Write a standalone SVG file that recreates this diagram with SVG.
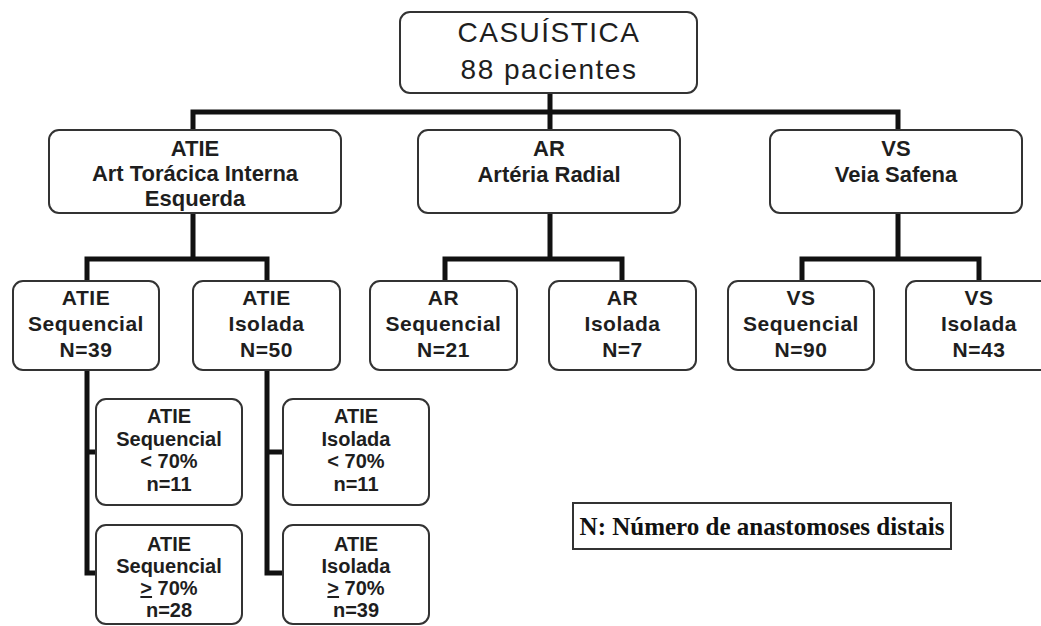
<svg xmlns="http://www.w3.org/2000/svg" width="1041" height="626" viewBox="0 0 1041 626">
<style>
.box{fill:#fff;stroke:#333;stroke-width:2}
.conn{fill:none;stroke:#111;stroke-width:5;stroke-linejoin:miter;stroke-linecap:butt}
text{font-family:"Liberation Sans",Arial,sans-serif;fill:#1e1e1e;text-anchor:middle}
.t0{font-size:28px;letter-spacing:1.5px}
.t1{font-size:22px;font-weight:bold}
.t2{font-size:21px;font-weight:bold;letter-spacing:0.5px}
.t3{font-size:20px;font-weight:bold}
.leg{font-family:"Liberation Serif","Times New Roman",serif;font-size:25px;font-weight:bold;fill:#111}
</style>
<rect width="1041" height="626" fill="#fff"/>
<g id="connectors">
<path class="conn" d="M550,93 V112 M193,130 V112 H898 V130 M550,112 V130"/>
<path class="conn" d="M193,213 V259 M87,281 V259 H267 V281"/>
<path class="conn" d="M550,213 V259 M445,281 V259 H622 V281"/>
<path class="conn" d="M898,213 V259 M802,281 V259 H979 V281"/>
<path class="conn" d="M87,370 V573 H96 M87,452 H96"/>
<path class="conn" d="M267,370 V573 H283 M267,452 H283"/>
</g>
<g id="casuistica">
<rect class="box" x="400" y="12" width="297" height="81" rx="10"/>
<text class="t0" x="549" y="42">CASUÍSTICA</text>
<text class="t0" x="549" y="79">88 pacientes</text>
</g>
<g id="atie">
<rect class="box" x="49" y="130" width="292" height="83" rx="10"/>
<text class="t1" x="195" y="156">ATIE</text>
<text class="t1" x="195" y="181">Art Torácica Interna</text>
<text class="t1" x="195" y="206">Esquerda</text>
</g>
<g id="ar">
<rect class="box" x="418" y="130" width="262" height="83" rx="10"/>
<text class="t1" x="549" y="156">AR</text>
<text class="t1" x="549" y="182">Artéria Radial</text>
</g>
<g id="vs">
<rect class="box" x="770" y="130" width="252" height="83" rx="10"/>
<text class="t1" x="896" y="156">VS</text>
<text class="t1" x="896" y="182">Veia Safena</text>
</g>
<g id="atie-seq">
<rect class="box" x="13" y="281" width="146" height="89" rx="10"/>
<text class="t2" x="86" y="305">ATIE</text>
<text class="t2" x="86" y="331">Sequencial</text>
<text class="t2" x="86" y="357">N=39</text>
</g>
<g id="atie-iso">
<rect class="box" x="193" y="281" width="147" height="89" rx="10"/>
<text class="t2" x="266.5" y="305">ATIE</text>
<text class="t2" x="266.5" y="331">Isolada</text>
<text class="t2" x="266.5" y="357">N=50</text>
</g>
<g id="ar-seq">
<rect class="box" x="370" y="281" width="147" height="89" rx="10"/>
<text class="t2" x="443.5" y="305">AR</text>
<text class="t2" x="443.5" y="331">Sequencial</text>
<text class="t2" x="443.5" y="357">N=21</text>
</g>
<g id="ar-iso">
<rect class="box" x="549" y="281" width="147" height="89" rx="10"/>
<text class="t2" x="622.5" y="305">AR</text>
<text class="t2" x="622.5" y="331">Isolada</text>
<text class="t2" x="622.5" y="357">N=7</text>
</g>
<g id="vs-seq">
<rect class="box" x="728" y="281" width="146" height="89" rx="10"/>
<text class="t2" x="801" y="305">VS</text>
<text class="t2" x="801" y="331">Sequencial</text>
<text class="t2" x="801" y="357">N=90</text>
</g>
<g id="vs-iso">
<rect class="box" x="906" y="281" width="147" height="89" rx="10"/>
<text class="t2" x="979" y="305">VS</text>
<text class="t2" x="979" y="331">Isolada</text>
<text class="t2" x="979" y="357">N=43</text>
</g>
<g id="atie-seq-lt70">
<rect class="box" x="96" y="399" width="146" height="106" rx="10"/>
<text class="t3" x="169" y="423">ATIE</text>
<text class="t3" x="169" y="445.5">Sequencial</text>
<text class="t3" x="169" y="468">&lt; 70%</text>
<text class="t3" x="169" y="490.5">n=11</text>
</g>
<g id="atie-seq-ge70">
<rect class="box" x="96" y="525" width="146" height="99" rx="10"/>
<text class="t3" x="169" y="551">ATIE</text>
<text class="t3" x="169" y="573">Sequencial</text>
<text class="t3" x="169" y="595"><tspan text-decoration="underline">&gt;</tspan> 70%</text>
<text class="t3" x="169" y="617">n=28</text>
</g>
<g id="atie-iso-lt70">
<rect class="box" x="283" y="399" width="146" height="106" rx="10"/>
<text class="t3" x="356" y="423">ATIE</text>
<text class="t3" x="356" y="445.5">Isolada</text>
<text class="t3" x="356" y="468">&lt; 70%</text>
<text class="t3" x="356" y="490.5">n=11</text>
</g>
<g id="atie-iso-ge70">
<rect class="box" x="283" y="525" width="146" height="99" rx="10"/>
<text class="t3" x="356" y="551">ATIE</text>
<text class="t3" x="356" y="573">Isolada</text>
<text class="t3" x="356" y="595"><tspan text-decoration="underline">&gt;</tspan> 70%</text>
<text class="t3" x="356" y="617">n=39</text>
</g>
<g id="legend">
<rect x="573" y="503" width="378" height="46" fill="#fff" stroke="#333" stroke-width="2"/>
<text class="leg" x="762" y="535">N: Número de anastomoses distais</text>
</g>
</svg>
